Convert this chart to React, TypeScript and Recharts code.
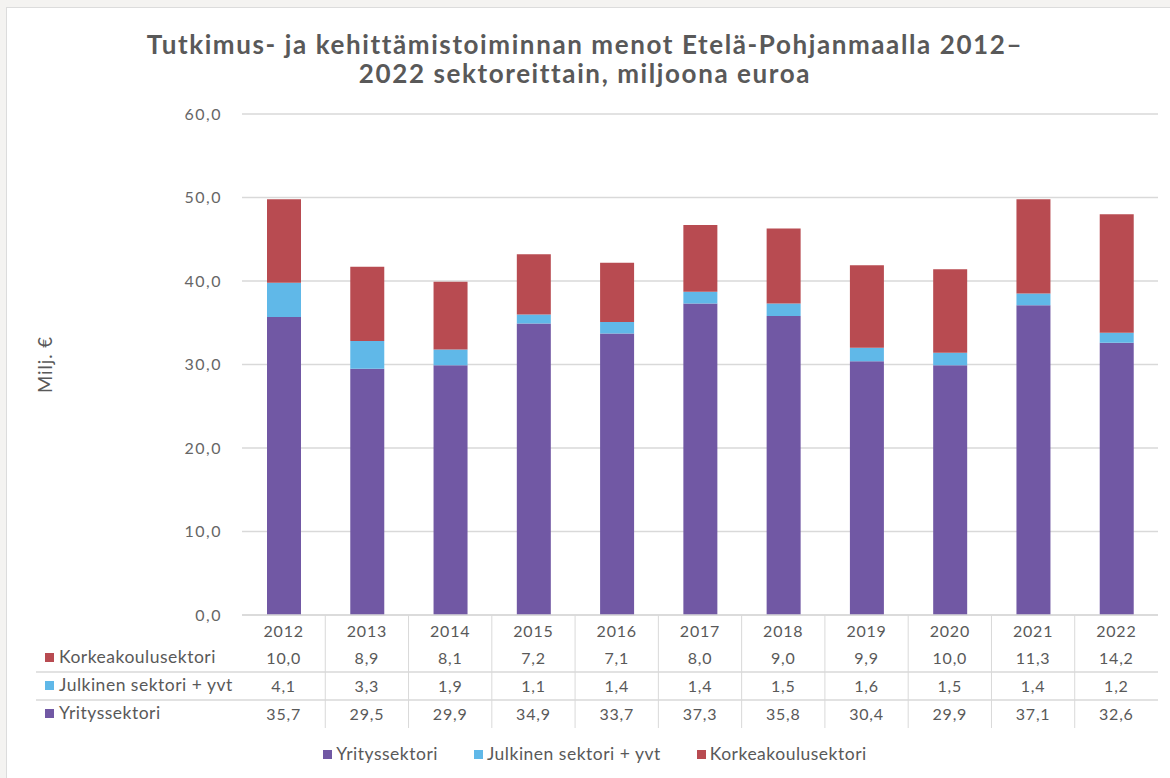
import React from 'react';
import { BarChart, Bar, XAxis, YAxis, CartesianGrid, Legend, Label } from 'recharts';

const years = ['2012', '2013', '2014', '2015', '2016', '2017', '2018', '2019', '2020', '2021', '2022'];
const yritys = [35.7, 29.5, 29.9, 34.9, 33.7, 37.3, 35.8, 30.4, 29.9, 37.1, 32.6];
const julkinen = [4.1, 3.3, 1.9, 1.1, 1.4, 1.4, 1.5, 1.6, 1.5, 1.4, 1.2];
const korkea = [10.0, 8.9, 8.1, 7.2, 7.1, 8.0, 9.0, 9.9, 10.0, 11.3, 14.2];
const yTicks = [0, 10, 20, 30, 40, 50, 60];

const seriesNames = {
  yritys: 'Yrityssektori',
  julkinen: 'Julkinen sektori + yvt',
  korkea: 'Korkeakoulusektori',
};
const legendOrder = [seriesNames.yritys, seriesNames.julkinen, seriesNames.korkea];

const COLORS = {
  yritys: '#7158A4',
  julkinen: '#60B8E8',
  korkea: '#B84B51',
};

const TEXT = '#595959';
const TICK_TEXT = '#666666';
const GRID = '#d9d9d9';
const FONT = 'Lato, "Open Sans", sans-serif';

const data = years.map((y, i) => ({
  year: y,
  yritys: yritys[i],
  julkinen: julkinen[i],
  korkea: korkea[i],
}));

const fmt = (v: number) => v.toFixed(1).replace('.', ',');

const tableRows = [
  { key: 'korkea', name: seriesNames.korkea, color: COLORS.korkea, values: korkea },
  { key: 'julkinen', name: seriesNames.julkinen, color: COLORS.julkinen, values: julkinen },
  { key: 'yritys', name: seriesNames.yritys, color: COLORS.yritys, values: yritys },
];

const ROW0 = 15;
const ROW_START = 42;
const ROW_STEP = 28;
const TABLE_H = 113;

const NUM_STYLE = { fontSize: 16, letterSpacing: 0.8 };
const LABEL_STYLE = { fontSize: 17.5, letterSpacing: 0.5 };

const TableTick = (props: any) => {
  const { x, y, payload } = props;
  let idx = props.index;
  if (idx === undefined || idx === null) idx = years.indexOf(String(payload.value));
  const half = payload && typeof payload.offset === 'number' && payload.offset > 0 ? payload.offset : 41.6;
  const left = x - half;
  const tableRight = left + (years.length - idx) * 2 * half;
  return (
    <g>
      {idx > 0 && <line x1={left} x2={left} y1={y} y2={y + TABLE_H} stroke={GRID} strokeWidth={1} />}
      <text x={x} y={y + ROW0} textAnchor="middle" dominantBaseline="central" fill={TEXT} fontFamily={FONT} style={NUM_STYLE}>
        {years[idx]}
      </text>
      {tableRows.map((r, k) => (
        <text
          key={r.key}
          x={x}
          y={y + ROW_START + ROW_STEP * k}
          textAnchor="middle"
          dominantBaseline="central"
          fill={TEXT}
          fontFamily={FONT}
          style={NUM_STYLE}
        >
          {fmt(r.values[idx])}
        </text>
      ))}
      {idx === 0 && (
        <g>
          {[0, 1].map((k) => (
            <line
              key={k}
              x1={36}
              x2={tableRight}
              y1={y + ROW_START + ROW_STEP * k + ROW_STEP / 2 + 1}
              y2={y + ROW_START + ROW_STEP * k + ROW_STEP / 2 + 1}
              stroke={GRID}
              strokeWidth={1.5}
            />
          ))}
          {tableRows.map((r, k) => (
            <g key={r.key}>
              <rect x={45} y={y + ROW_START + ROW_STEP * k - 4} width={9} height={9} fill={r.color} />
              <text
                x={59}
                y={y + ROW_START + ROW_STEP * k - 1}
                dominantBaseline="central"
                fill={TEXT}
                fontFamily={FONT}
                style={LABEL_STYLE}
              >
                {r.name}
              </text>
            </g>
          ))}
        </g>
      )}
    </g>
  );
};

const LegendContent = (props: any) => {
  const payload = [...(props.payload || [])].sort(
    (a: any, b: any) => legendOrder.indexOf(a.value) - legendOrder.indexOf(b.value)
  );
  return (
    <div
      style={{
        display: 'flex',
        justifyContent: 'center',
        gap: 36,
        height: 20,
        lineHeight: '20px',
        fontSize: 17.5,
        letterSpacing: 0.5,
        color: TEXT,
        fontFamily: FONT,
        paddingLeft: 32,
      }}
    >
      {payload.map((p: any) => (
        <div key={p.value} style={{ display: 'flex', alignItems: 'center' }}>
          <span style={{ display: 'inline-block', width: 9, height: 9, background: p.color, marginRight: 4 }} />
          <span>{p.value}</span>
        </div>
      ))}
    </div>
  );
};

const YLabel = (props: any) => {
  const vb = props.viewBox || { x: 0, y: 0, width: 0, height: 0 };
  const cx = vb.x + 45;
  const cy = vb.y + vb.height / 2;
  return (
    <text
      x={cx}
      y={cy}
      transform={`rotate(-90, ${cx}, ${cy})`}
      textAnchor="middle"
      dominantBaseline="central"
      fill={TEXT}
      fontFamily={FONT}
      style={{ fontSize: 18.5, letterSpacing: 1 }}
    >
      Milj. €
    </text>
  );
};

export default function App() {
  return (
    <div
      style={{
        position: 'absolute',
        left: 0,
        top: 0,
        width: 1170,
        height: 778,
        background: '#f4f3f1',
        overflow: 'hidden',
        fontFamily: FONT,
      }}
    >
      <div
        style={{
          position: 'absolute',
          left: 6,
          top: 7,
          width: 1180,
          height: 790,
          background: '#ffffff',
          border: '1px solid #dcdcdc',
        }}
      />
      <div
        style={{
          position: 'absolute',
          left: 0,
          top: 30,
          width: 1170,
          textAlign: 'center',
          fontSize: 26,
          lineHeight: '29px',
          letterSpacing: 1.6,
          fontWeight: 700,
          color: TEXT,
          fontFamily: FONT,
        }}
      >
        <div>Tutkimus- ja kehittämistoiminnan menot Etelä-Pohjanmaalla 2012–</div>
        <div>2022 sektoreittain, miljoona euroa</div>
      </div>
      <div style={{ position: 'absolute', left: 0, top: 0 }}>
        <BarChart
          width={1170}
          height={778}
          data={data}
          margin={{ top: 114, right: 12, bottom: 14, left: 0 }}
          barSize={34}
        >
          <CartesianGrid vertical={false} stroke={GRID} strokeWidth={1.5} />
          <XAxis
            dataKey="year"
            height={129}
            interval={0}
            tickLine={false}
            tickSize={0}
            tickMargin={0}
            axisLine={{ stroke: GRID, strokeWidth: 1.5 }}
            tick={<TableTick />}
          />
          <YAxis
            width={242}
            domain={[0, 60]}
            ticks={yTicks}
            tickFormatter={fmt}
            axisLine={false}
            tickLine={false}
            tickSize={6}
            tickMargin={14}
            tick={{ fill: TICK_TEXT, fontSize: 16, fontFamily: FONT, letterSpacing: 1.5 }}
          >
            <Label content={<YLabel />} />
          </YAxis>
          <Legend verticalAlign="bottom" content={<LegendContent />} />
          <Bar dataKey="yritys" name={seriesNames.yritys} stackId="a" fill={COLORS.yritys} isAnimationActive={false} />
          <Bar dataKey="julkinen" name={seriesNames.julkinen} stackId="a" fill={COLORS.julkinen} isAnimationActive={false} />
          <Bar dataKey="korkea" name={seriesNames.korkea} stackId="a" fill={COLORS.korkea} isAnimationActive={false} />
        </BarChart>
      </div>
    </div>
  );
}
